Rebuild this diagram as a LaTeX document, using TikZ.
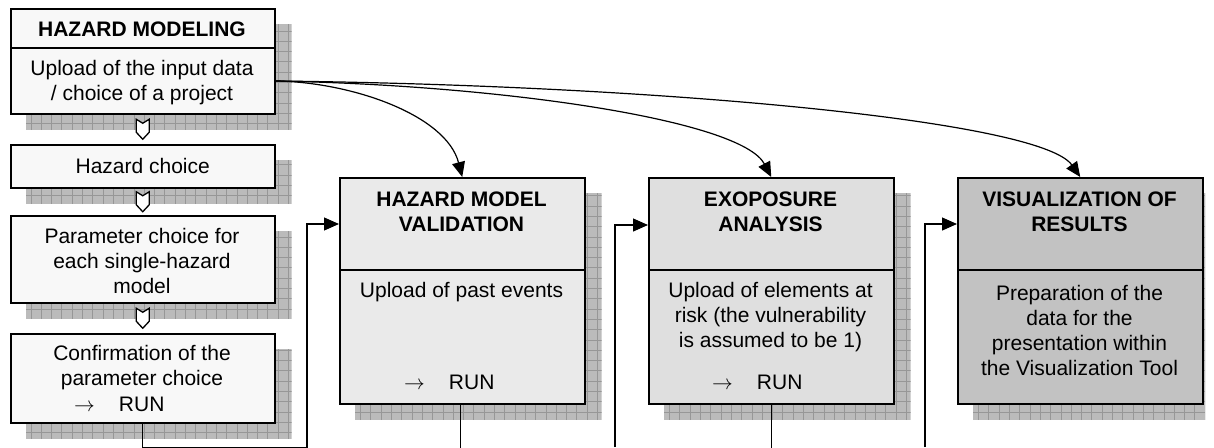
\documentclass[tikz,border=0pt]{standalone}
\usepackage{fontspec}
\setmainfont{Liberation Sans}
\usetikzlibrary{calc,arrows.meta,backgrounds}
\definecolor{lfill}{HTML}{F8F8F8}
\definecolor{hfill}{HTML}{EAEAEA}
\definecolor{efill}{HTML}{DFDFDF}
\definecolor{vfill}{HTML}{C2C2C2}
\definecolor{shcol}{HTML}{BBBBBB}
\definecolor{grcol}{HTML}{979797}
\tikzset{
  frame/.style={draw=black, line width=1.5pt, rectangle, inner sep=0pt, anchor=north west},
  txt/.style={font=\fontsize{21}{25}\selectfont, align=center, inner sep=0pt},
  ttl/.style={font=\fontsize{21}{25}\selectfont\bfseries, align=center, inner sep=0pt},
  runtxt/.style={font=\fontsize{21}{25}\selectfont, inner sep=0pt, anchor=west},
  conn/.style={draw=black, line width=1.2pt},
  arr/.style={conn, -{Triangle[length=15pt,width=13pt]}},
  sepline/.style={line width=1.5pt},
  chev/.pic={\draw[fill=white, line width=1.3pt, line join=miter] (-6.5,-10) -- (0,-6) -- (6.5,-10) -- (6.5,3) -- (0,10) -- (-6.5,3) -- cycle;}
}
\newcommand\gshadow[1]{%
  \begin{scope}
    \path[clip] ($(#1.north west)+(16,16)$) rectangle ($(#1.south east)+(16,15)$);
    \fill[shcol] ($(#1.north west)+(16,16)$) rectangle ($(#1.south east)+(16,15)$);
    \draw[grcol, line width=0.8pt, step=10.3pt] ($(#1.north west)+(6,6)$) grid ($(#1.south east)+(26,25)$);
  \end{scope}}
\begin{document}
\begin{tikzpicture}[x=1pt,y=-1pt]
\useasboundingbox (0,0) rectangle (1214,447);
% ---------- left column ----------
\node[frame, fill=lfill, minimum width=264pt, minimum height=105pt] (b1) at (10,8) {};
\draw[sepline] ($(b1.north west)+(0,40)$) -- ($(b1.north east)+(0,40)$);
\node[ttl] (t1) at (142,29) {HAZARD MODELING};
\node[txt] (u1) at (142,83) {Upload of the input data\\/ choice of a project};

\node[frame, fill=lfill, minimum width=264pt, minimum height=43pt] (b2) at (10,144) {};
\node[txt] (u2) at (b2.center) {Hazard choice};

\node[frame, fill=lfill, minimum width=264pt, minimum height=87pt] (b3) at (10,215) {};
\node[txt] (u3) at (142,261) {Parameter choice for\\each single-hazard\\model};

\node[frame, fill=lfill, minimum width=264pt, minimum height=89pt] (b4) at (10,333) {};
\node[txt] (u4) at (142,368) {Confirmation of the\\parameter choice};
\node[runtxt] (r4) at (74,404) {$\rightarrow$\hspace{24pt}RUN};

\pic at ($(b1.south)!0.5!(b2.north)$) {chev};
\pic at ($(b2.south)!0.5!(b3.north)$) {chev};
\pic at ($(b3.south)!0.5!(b4.north)$) {chev};

% ---------- right boxes ----------
\node[frame, fill=hfill, minimum width=245pt, minimum height=226pt] (hmv) at (339,177) {};
\draw[sepline] ($(hmv.north west)+(0,93)$) -- ($(hmv.north east)+(0,93)$);
\node[ttl] (th) at (461.5,212) {HAZARD MODEL\\VALIDATION};
\node[txt] (uh) at (461.5,292) {Upload of past events};
\node[runtxt] (rh) at (404,382) {$\rightarrow$\hspace{24pt}RUN};

\node[frame, fill=efill, minimum width=245pt, minimum height=226pt] (exp) at (648,177) {};
\draw[sepline] ($(exp.north west)+(0,93)$) -- ($(exp.north east)+(0,93)$);
\node[ttl] (te) at (770.5,212) {EXOPOSURE\\ANALYSIS};
\node[txt] (ue) at (770.5,317) {Upload of elements at\\risk (the vulnerability\\is assumed to be 1)};
\node[runtxt] (re) at (712,382) {$\rightarrow$\hspace{24pt}RUN};

\node[frame, fill=vfill, minimum width=245pt, minimum height=226pt] (vis) at (957,177) {};
\draw[sepline] ($(vis.north west)+(0,93)$) -- ($(vis.north east)+(0,93)$);
\node[ttl] (tv) at (1079.5,212) {VISUALIZATION OF\\RESULTS};
\node[txt] (uv) at (1079.5,330) {Preparation of the\\data for the\\presentation within\\the Visualization Tool};

% ---------- shadows ----------
\begin{scope}[on background layer]
  \gshadow{b1}\gshadow{b2}\gshadow{b3}\gshadow{b4}
  \gshadow{hmv}\gshadow{exp}
  \begin{scope}
    \clip (0,0) rectangle (1205,447);
    \gshadow{vis}
  \end{scope}
\end{scope}

% ---------- connectors ----------
\coordinate (src) at ($(b1.north east)+(0,73)$);
\draw[arr] (src) .. controls +(76,1) and +(-16,-62) .. (hmv.north);
\draw[arr] (src) .. controls +(226,4) and +(-30,-57) .. (exp.north);
\draw[arr] (src) .. controls +(376,4) and +(-40,-57) .. (vis.north);

\coordinate (hin) at ($(hmv.north west)+(0,47)$);
\coordinate (ein) at ($(exp.north west)+(0,48)$);
\coordinate (vin) at ($(vis.north west)+(0,47)$);
\coordinate (ebot) at (615,447);
\coordinate (vbot) at (925,447);
\coordinate (hbot) at ($(hmv.south)+(-2,44)$);
\coordinate (xbot) at ($(exp.south)+(0,45)$);

\draw[arr] (b4.south) -- ++(0,24) -| ($(hin)+(-32,0)$) -- (hin);
\draw[conn] ($(hmv.south)+(-2,0)$) -- (hbot);
\draw[arr] (ebot) |- (ein);
\draw[conn] (exp.south) -- (xbot);
\draw[arr] (vbot) |- (vin);
\end{tikzpicture}
\end{document}
